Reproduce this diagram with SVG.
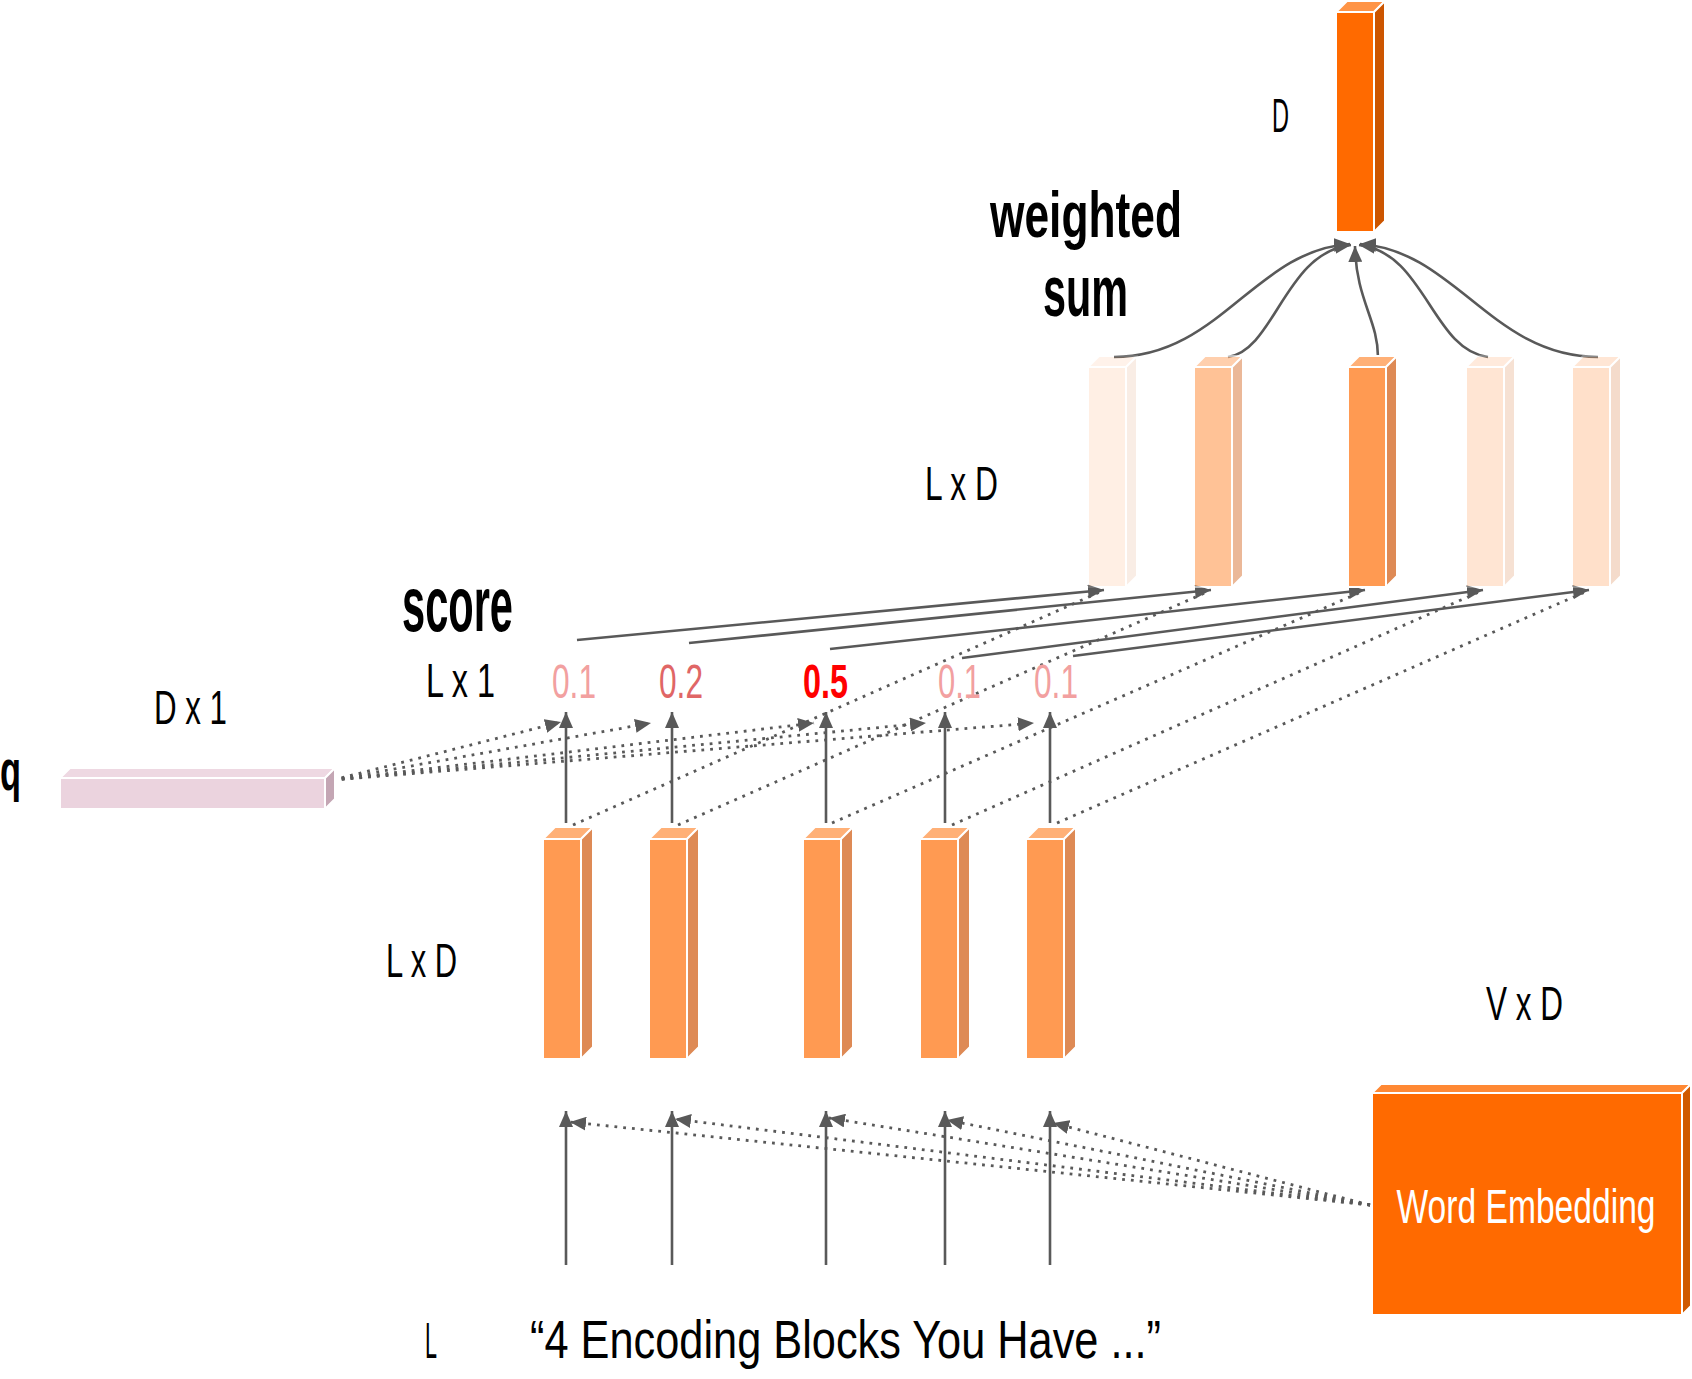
<svg xmlns="http://www.w3.org/2000/svg" width="1692" height="1379" viewBox="0 0 1692 1379">
<style>
text{font-family:"Liberation Sans Narrow","Liberation Sans","DejaVu Sans Condensed",sans-serif;fill:#000}
.lbl{font-size:49px}
.bold{font-weight:bold}
.face{stroke:#fff;stroke-width:2;stroke-linejoin:round}
.bf{fill:#FF9A52}.bt{fill:#FFB077}.bs{fill:#DE8A55}
.ln{fill:none;stroke:#595959;stroke-width:2.6}
.dot{fill:none;stroke:#595959;stroke-width:2.8;stroke-dasharray:2.8 6}
</style>
<defs>
<marker id="ah" viewBox="0 0 16 14" refX="16" refY="7" markerWidth="16" markerHeight="14" markerUnits="userSpaceOnUse" orient="auto">
<path d="M0,0 L16,7 L0,14 z" fill="#595959"/>
</marker>
</defs>
<rect width="1692" height="1379" fill="#fff"/>

<g id="connectors">
<!-- weighted sum curves -->
<path class="ln" d="M1114,357 C1220,357 1255,250 1350,244" marker-end="url(#ah)"/>
<path class="ln" d="M1228,357 C1275,350 1285,252 1351,245" marker-end="url(#ah)"/>
<path class="ln" d="M1378,357 C1378,320 1356,300 1355,246" marker-end="url(#ah)"/>
<path class="ln" d="M1488,357 C1432,350 1425,252 1359,245" marker-end="url(#ah)"/>
<path class="ln" d="M1598,357 C1492,357 1455,250 1360,244" marker-end="url(#ah)"/>
<!-- score to values -->
<path class="ln" d="M577,640 L1104,590" marker-end="url(#ah)"/>
<path class="ln" d="M689,643 L1211,590" marker-end="url(#ah)"/>
<path class="ln" d="M830,649 L1365,590" marker-end="url(#ah)"/>
<path class="ln" d="M962,658 L1483,590" marker-end="url(#ah)"/>
<path class="ln" d="M1073,656 L1589,590" marker-end="url(#ah)"/>
<!-- hidden states to values (dotted) -->
<path class="dot" d="M573,825 L1100,592"/>
<path class="dot" d="M678,825 L1207,592"/>
<path class="dot" d="M832,823 L1361,592"/>
<path class="dot" d="M952,825 L1479,592"/>
<path class="dot" d="M1057,823 L1585,592"/>
<!-- q to scores (dotted) -->
<path class="dot" d="M333,780 L561,722" marker-end="url(#ah)"/>
<path class="dot" d="M333,780 L651,723" marker-end="url(#ah)"/>
<path class="dot" d="M333,780 L814,723" marker-end="url(#ah)"/>
<path class="dot" d="M333,780 L926,723" marker-end="url(#ah)"/>
<path class="dot" d="M333,780 L1034,723" marker-end="url(#ah)"/>
<!-- hidden states to scores -->
<path class="ln" d="M566,823 L566,712" marker-end="url(#ah)"/>
<path class="ln" d="M672,823 L672,712" marker-end="url(#ah)"/>
<path class="ln" d="M826,823 L826,712" marker-end="url(#ah)"/>
<path class="ln" d="M945,823 L945,712" marker-end="url(#ah)"/>
<path class="ln" d="M1050,823 L1050,712" marker-end="url(#ah)"/>
<!-- tokens to hidden states -->
<path class="ln" d="M566,1265 L566,1111" marker-end="url(#ah)"/>
<path class="ln" d="M672,1265 L672,1111" marker-end="url(#ah)"/>
<path class="ln" d="M826,1265 L826,1111" marker-end="url(#ah)"/>
<path class="ln" d="M945,1265 L945,1111" marker-end="url(#ah)"/>
<path class="ln" d="M1050,1265 L1050,1111" marker-end="url(#ah)"/>
<!-- embedding lookups (dotted) -->
<path class="dot" d="M1370,1205 L570,1122" marker-end="url(#ah)"/>
<path class="dot" d="M1370,1205 L675,1119" marker-end="url(#ah)"/>
<path class="dot" d="M1370,1205 L829,1118" marker-end="url(#ah)"/>
<path class="dot" d="M1370,1205 L947,1120" marker-end="url(#ah)"/>
<path class="dot" d="M1370,1205 L1053,1123" marker-end="url(#ah)"/>
</g>

<g id="node-output">
<rect class="face" x="1336" y="12" width="38" height="220" fill="#FF6A00"/>
<polygon class="face" points="1336,12 1347,1 1385,1 1374,12" fill="#FF9446"/>
<polygon class="face" points="1374,12 1385,1 1385,221 1374,232" fill="#CC5500"/>
<text class="lbl" x="1272" y="132" textLength="17" lengthAdjust="spacingAndGlyphs">D</text>
</g>

<g id="label-weighted-sum">
<text class="bold" x="990" y="237" font-size="64" textLength="192" lengthAdjust="spacingAndGlyphs">weighted</text>
<text class="bold" x="1043" y="316" font-size="72" textLength="85" lengthAdjust="spacingAndGlyphs">sum</text>
</g>

<g id="node-values">
<text class="lbl" x="925" y="500" textLength="73" lengthAdjust="spacingAndGlyphs">L x D</text>
<g id="node-v1" opacity="0.15">
<rect class="face bf" x="1088" y="367" width="38" height="220"/>
<polygon class="face bt" points="1088,367 1099,356 1137,356 1126,367"/>
<polygon class="face bs" points="1126,367 1137,356 1137,576 1126,587"/>
</g>
<g id="node-v2" opacity="0.6">
<rect class="face bf" x="1194" y="367" width="38" height="220"/>
<polygon class="face bt" points="1194,367 1205,356 1243,356 1232,367"/>
<polygon class="face bs" points="1232,367 1243,356 1243,576 1232,587"/>
</g>
<g id="node-v3">
<rect class="face bf" x="1348" y="367" width="38" height="220"/>
<polygon class="face bt" points="1348,367 1359,356 1397,356 1386,367"/>
<polygon class="face bs" points="1386,367 1397,356 1397,576 1386,587"/>
</g>
<g id="node-v4" opacity="0.25">
<rect class="face bf" x="1466" y="367" width="38" height="220"/>
<polygon class="face bt" points="1466,367 1477,356 1515,356 1504,367"/>
<polygon class="face bs" points="1504,367 1515,356 1515,576 1504,587"/>
</g>
<g id="node-v5" opacity="0.3">
<rect class="face bf" x="1572" y="367" width="38" height="220"/>
<polygon class="face bt" points="1572,367 1583,356 1621,356 1610,367"/>
<polygon class="face bs" points="1610,367 1621,356 1621,576 1610,587"/>
</g>
</g>

<g id="node-scores">
<text class="bold" x="402" y="631" font-size="77" textLength="111" lengthAdjust="spacingAndGlyphs">score</text>
<text class="lbl" x="426" y="697" textLength="69" lengthAdjust="spacingAndGlyphs">L x 1</text>
<text id="node-s1" class="lbl" x="552" y="698" style="fill:#F2A0A0" textLength="44" lengthAdjust="spacingAndGlyphs">0.1</text>
<text id="node-s2" class="lbl" x="659" y="698" style="fill:#E06666" textLength="44" lengthAdjust="spacingAndGlyphs">0.2</text>
<text id="node-s3" class="lbl bold" x="803" y="698" style="fill:#FF0000" textLength="45" lengthAdjust="spacingAndGlyphs">0.5</text>
<text id="node-s4" class="lbl" x="938" y="698" style="fill:#F2A0A0" textLength="43" lengthAdjust="spacingAndGlyphs">0.1</text>
<text id="node-s5" class="lbl" x="1034" y="698" style="fill:#F2A0A0" textLength="44" lengthAdjust="spacingAndGlyphs">0.1</text>
</g>

<g id="node-q">
<text class="bold" x="0" y="790" font-size="58" textLength="21" lengthAdjust="spacingAndGlyphs">q</text>
<text class="lbl" x="154" y="724" textLength="73" lengthAdjust="spacingAndGlyphs">D x 1</text>
<rect class="face" x="60" y="778" width="265" height="31" fill="#EBD3DE"/>
<polygon class="face" points="60,778 70,768 335,768 325,778" fill="#EED8E2"/>
<polygon class="face" points="325,778 335,768 335,799 325,809" fill="#C4A6B4"/>
</g>

<g id="node-hidden">
<text class="lbl" x="386" y="977" textLength="71" lengthAdjust="spacingAndGlyphs">L x D</text>
<g id="node-h1">
<rect class="face bf" x="543" y="839" width="38" height="220"/>
<polygon class="face bt" points="543,839 555,827 593,827 581,839"/>
<polygon class="face bs" points="581,839 593,827 593,1047 581,1059"/>
</g>
<g id="node-h2">
<rect class="face bf" x="649" y="839" width="38" height="220"/>
<polygon class="face bt" points="649,839 661,827 699,827 687,839"/>
<polygon class="face bs" points="687,839 699,827 699,1047 687,1059"/>
</g>
<g id="node-h3">
<rect class="face bf" x="803" y="839" width="38" height="220"/>
<polygon class="face bt" points="803,839 815,827 853,827 841,839"/>
<polygon class="face bs" points="841,839 853,827 853,1047 841,1059"/>
</g>
<g id="node-h4">
<rect class="face bf" x="920" y="839" width="38" height="220"/>
<polygon class="face bt" points="920,839 932,827 970,827 958,839"/>
<polygon class="face bs" points="958,839 970,827 970,1047 958,1059"/>
</g>
<g id="node-h5">
<rect class="face bf" x="1026" y="839" width="38" height="220"/>
<polygon class="face bt" points="1026,839 1038,827 1076,827 1064,839"/>
<polygon class="face bs" points="1064,839 1076,827 1076,1047 1064,1059"/>
</g>
</g>

<g id="node-embedding">
<text class="lbl" x="1486" y="1020" textLength="77" lengthAdjust="spacingAndGlyphs">V x D</text>
<rect class="face" x="1372" y="1093" width="310" height="222" fill="#FF6A00"/>
<polygon class="face" points="1372,1093 1381,1084 1691,1084 1682,1093" fill="#FF8833"/>
<polygon class="face" points="1682,1093 1691,1084 1691,1306 1682,1315" fill="#D05A00"/>
<text transform="translate(1526,1223) scale(1,1.22)" x="0" y="0" font-size="40" text-anchor="middle" style="fill:#fff" textLength="259" lengthAdjust="spacingAndGlyphs">Word Embedding</text>
</g>

<g id="node-input">
<text x="425" y="1358" font-size="50" textLength="12" lengthAdjust="spacingAndGlyphs">L</text>
<text x="530" y="1358" font-size="53" textLength="631" lengthAdjust="spacingAndGlyphs">“4 Encoding Blocks You Have ...”</text>
</g>
</svg>
